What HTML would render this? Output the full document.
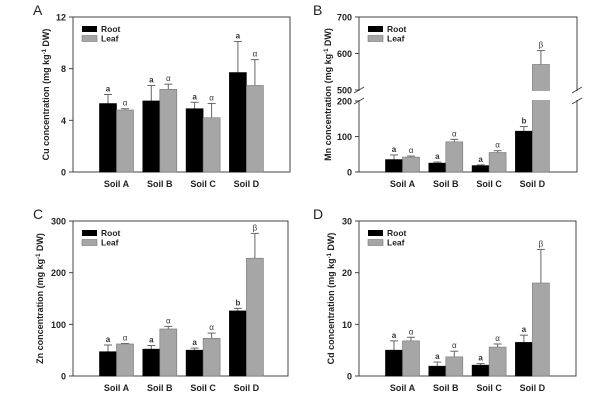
<!DOCTYPE html>
<html><head><meta charset="utf-8"><style>
body{margin:0;background:#fff;width:608px;height:403px;overflow:hidden}
svg text{font-family:"Liberation Sans",Arial,sans-serif}
</style></head><body>
<svg id="fig" width="608" height="403" xmlns="http://www.w3.org/2000/svg"></svg>
<script>
const soils = ["Soil A","Soil B","Soil C","Soil D"];
const cuRoot=[5.3,5.5,4.9,7.7], cuRootErr=[6.0,6.7,5.4,10.1];
const cuLeaf=[4.8,6.4,4.2,6.7], cuLeafErr=[4.9,6.8,5.3,8.7];
const cuRootLet=["a","a","a","a"], cuLeafLet=["α","α","α","α"];
const mnRoot=[35,25,18,115], mnRootErr=[48,28,20,128];
const mnLeaf=[42,85,55,570], mnLeafErr=[45,92,60,608];
const mnRootLet=["a","a","a","b"], mnLeafLet=["α","α","α","β"];
const znRoot=[47,52,50,126], znRootErr=[60,59,54,131];
const znLeaf=[62,91,73,228], znLeafErr=[63,96,83,276];
const znRootLet=["a","a","a","b"], znLeafLet=["α","α","α","β"];
const cdRoot=[5.0,1.9,2.1,6.5], cdRootErr=[6.8,2.7,2.4,7.9];
const cdLeaf=[6.8,3.7,5.6,18], cdLeafErr=[7.5,4.8,6.2,24.5];
const cdRootLet=["a","a","a","a"], cdLeafLet=["α","α","α","β"];
const cuTicks=[0,4,8,12], mnTicks=[0,100,200,500,600,700], znTicks=[0,100,200,300], cdTicks=[0,10,20,30];

const NS="http://www.w3.org/2000/svg";
const svg=document.getElementById('fig');
function mk(tag,attrs,parent,name){const e=document.createElementNS(NS,tag);for(const k in attrs)e.setAttribute(k,attrs[k]);


(parent||svg).appendChild(e);return e;}

function panel(o){
  const g=mk('g',{},svg,o.id+'-panel');
  const L=o.L,R=o.R,T=o.T,B=o.B;
  const y=o.scale;
  mk('rect',{x:L,y:T,width:R-L,height:B-T,fill:'none',stroke:'#444','stroke-width':1},g,o.id+'-plot-frame');
  const ty=mk('text',{transform:`translate(${L-o.tOff},${(T+B)/2}) rotate(-90)`,'text-anchor':'middle','font-size':9,'font-weight':'bold',fill:'#222'},g,o.id+'-y-axis-title');
  ty.innerHTML=o.elem+' concentration (mg kg<tspan dy="-3" font-size="6">-1</tspan><tspan dy="3"> DW)</tspan>';
  const pl=mk('text',{x:o.lx,y:o.ly,'font-size':14,fill:'#222'},g,o.id+'-panel-letter');pl.textContent=o.letter;
  // legend
  mk('rect',{x:L+9,y:T+9,width:15,height:6,fill:'#000'},g,o.id+'-legend-root-swatch');
  const lr=mk('text',{x:L+28,y:T+15,'font-size':8.5,'font-weight':'bold',fill:'#222'},g,o.id+'-legend-root');lr.textContent='Root';
  mk('rect',{x:L+9,y:T+18.5,width:15,height:6,fill:'#a6a6a6',stroke:'#777','stroke-width':0.6},g,o.id+'-legend-leaf-swatch');
  const ll=mk('text',{x:L+28,y:T+24.5,'font-size':8.5,'font-weight':'bold',fill:'#222'},g,o.id+'-legend-leaf');ll.textContent='Leaf';
  soils.forEach((s,i)=>{
    const x0=L+26.5+43.3*i, w=17;
    [[o.root,o.rootErr,o.rootLet,'#000','#000','root',x0],[o.leaf,o.leafErr,o.leafLet,'#a6a6a6','#777','leaf',x0+w]].forEach(([vals,errs,lets,fill,st,nm,bx])=>{
      const v=vals[i], e=errs[i], yt=y(v);
      const cx=bx+w/2, ye=y(e);
      mk('line',{x1:cx,x2:cx,y1:yt,y2:ye,stroke:'#666','stroke-width':1},g,o.id+'-errorbar-'+nm);
      mk('line',{x1:cx-4,x2:cx+4,y1:ye,y2:ye,stroke:'#666','stroke-width':1},g,o.id+'-errorbar-cap-'+nm);
      mk('rect',{x:bx,y:yt,width:w,height:B-yt,fill:fill,stroke:st,'stroke-width':0.6},g,o.id+'-bar-'+nm+'-'+i);
      const lt=mk('text',{x:cx,y:ye-3,'text-anchor':'middle','font-size':8,'font-weight':nm==='root'?'bold':'normal',fill:'#333'},g,o.id+'-sig-letter-'+nm);lt.textContent=lets[i];
    });
    const cl=mk('text',{x:x0+17,y:B+15,'text-anchor':'middle','font-size':9,'font-weight':'bold',fill:'#222'},g,o.id+'-x-label');cl.textContent=s;
  });
  if(o.brk){const y1=y(200),y2=y(500);
    mk('rect',{x:L-1,y:y2+1,width:R-L+2,height:y1-y2-2,fill:'#fff'},g,o.id+'-axis-break-gap');
    [L,R].forEach(xx=>{[y2,y1].forEach(yy=>mk('line',{x1:xx-5,x2:xx+5,y1:yy+3,y2:yy-3,stroke:'#444'},g,o.id+'-axis-break-mark'));});
  }
  o.ticks.forEach(v=>{const yy=y(v);
    mk('line',{x1:L-4,x2:L,y1:yy,y2:yy,stroke:'#444'},g,o.id+'-y-tick');
    const t=mk('text',{x:L-7,y:yy+3.5,'text-anchor':'end','font-size':9,'font-weight':'bold',fill:'#222'},g,o.id+'-y-tick-label');t.textContent=v;});
}
function lin(d0,d1,r0,r1){return v=>r0+(v-d0)*(r1-r0)/(d1-d0);}
panel({id:'cu',L:73,R:290,T:17,B:172,lx:33,ly:15,letter:'A',elem:'Cu',tOff:24,scale:lin(0,12,172,17),ticks:cuTicks,
  root:cuRoot,rootErr:cuRootErr,rootLet:cuRootLet,leaf:cuLeaf,leafErr:cuLeafErr,leafLet:cuLeafLet});
const mnLow=lin(0,200,172,101), mnHigh=lin(500,700,90,17);
panel({id:'mn',L:359,R:577,T:17,B:172,lx:313,ly:15,letter:'B',elem:'Mn',tOff:28,scale:v=>v<=200?mnLow(v):(v>=500?mnHigh(v):mnLow(200)),ticks:mnTicks,brk:true,
  root:mnRoot,rootErr:mnRootErr,rootLet:mnRootLet,leaf:mnLeaf,leafErr:mnLeafErr,leafLet:mnLeafLet});
panel({id:'zn',L:73,R:288,T:221,B:376,lx:33,ly:219,letter:'C',elem:'Zn',tOff:30,scale:lin(0,300,376,221),ticks:znTicks,
  root:znRoot,rootErr:znRootErr,rootLet:znRootLet,leaf:znLeaf,leafErr:znLeafErr,leafLet:znLeafLet});
panel({id:'cd',L:359,R:576,T:221,B:376,lx:313,ly:219,letter:'D',elem:'Cd',tOff:25,scale:lin(0,30,376,221),ticks:cdTicks,
  root:cdRoot,rootErr:cdRootErr,rootLet:cdRootLet,leaf:cdLeaf,leafErr:cdLeafErr,leafLet:cdLeafLet});
</script>
</body></html>
